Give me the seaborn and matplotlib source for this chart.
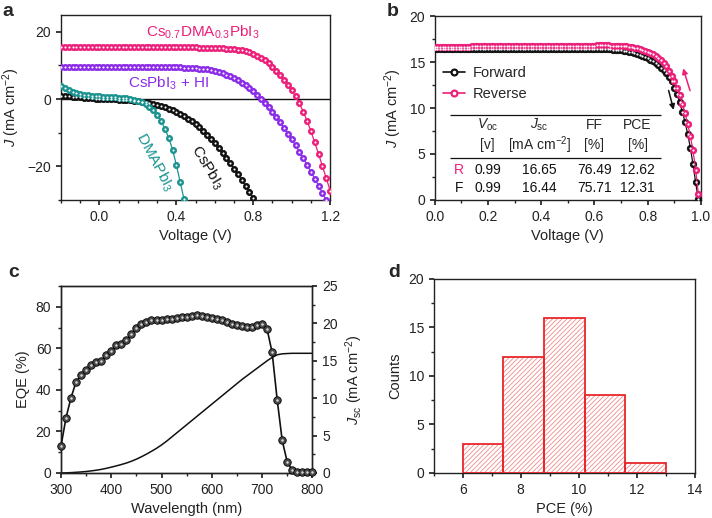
import matplotlib
matplotlib.use('Agg')
import matplotlib.pyplot as plt
import seaborn as sns
import pandas as pd
from matplotlib.lines import Line2D
from matplotlib.ticker import MultipleLocator

# ---------------- panel a data ----------------
voltage_a = [-0.20, -0.18, -0.16, -0.14, -0.12, -0.10, -0.08, -0.06, -0.04, -0.02,
             0.00, 0.02, 0.04, 0.06, 0.08, 0.10, 0.12, 0.14, 0.16, 0.18,
             0.20, 0.22, 0.24, 0.26, 0.28, 0.30, 0.32, 0.34, 0.36, 0.38,
             0.40, 0.42, 0.44, 0.46, 0.48, 0.50, 0.52, 0.54, 0.56, 0.58,
             0.60, 0.62, 0.64, 0.66, 0.68, 0.70, 0.72, 0.74, 0.76, 0.78,
             0.80, 0.82, 0.84, 0.86, 0.88, 0.90, 0.92, 0.94, 0.96, 0.98,
             1.00, 1.02, 1.04, 1.06, 1.08, 1.10, 1.12, 1.14, 1.16, 1.18, 1.20]
j_csdma = [15.55, 15.55, 15.54, 15.54, 15.54, 15.53, 15.53, 15.53, 15.52, 15.52,
           15.52, 15.51, 15.51, 15.51, 15.50, 15.50, 15.50, 15.49, 15.49, 15.49,
           15.48, 15.48, 15.47, 15.47, 15.46, 15.46, 15.45, 15.45, 15.44, 15.43,
           15.42, 15.41, 15.40, 15.39, 15.37, 15.35, 15.33, 15.30, 15.27, 15.24,
           15.20, 15.15, 15.09, 15.02, 14.93, 14.82, 14.68, 14.50, 14.27, 13.98,
           13.45, 12.90, 12.25, 11.50, 10.60, 9.60, 8.45, 7.20, 5.80, 4.30,
           2.60, 0.80, -1.30, -3.70, -6.50, -9.60, -12.90, -16.40, -20.00, -23.60, -27.20]
j_cshi = [9.62, 9.62, 9.62, 9.61, 9.61, 9.61, 9.61, 9.60, 9.60, 9.60,
          9.60, 9.60, 9.59, 9.59, 9.59, 9.59, 9.58, 9.58, 9.58, 9.57,
          9.57, 9.56, 9.56, 9.55, 9.54, 9.53, 9.52, 9.50, 9.48, 9.46,
          9.43, 9.40, 9.36, 9.31, 9.25, 9.18, 9.09, 8.98, 8.85, 8.70,
          8.45, 8.10, 7.70, 7.25, 6.75, 6.20, 5.60, 4.90, 4.10, 3.25,
          2.30, 1.25, 0.10, -1.10, -2.40, -3.80, -5.30, -6.90, -8.60, -10.30,
          -12.00, -13.80, -15.70, -17.60, -19.60, -21.60, -23.70, -25.80, -27.90, -30.10, -32.30]
j_cspbi3 = [1.00, 0.90, 0.80, 0.70, 0.60, 0.50, 0.40, 0.30, 0.22, 0.15,
            0.10, 0.05, 0.00, -0.05, -0.10, -0.15, -0.20, -0.27, -0.36, -0.48,
            -0.64, -0.80, -0.98, -1.18, -1.42, -1.70, -2.02, -2.40, -2.85, -3.35,
            -3.90, -4.50, -5.15, -5.85, -6.60, -7.45, -8.40, -9.45, -10.60, -11.85,
            -13.20, -14.60, -16.05, -17.55, -19.10, -20.70, -22.35, -24.05, -25.80, -27.60,
            -29.40, -31.20]
j_dmapbi3 = [4.00, 3.30, 2.70, 2.20, 1.80, 1.50, 1.30, 1.15, 1.00, 0.90,
             0.80, 0.72, 0.64, 0.56, 0.48, 0.40, 0.30, 0.18, 0.02, -0.20,
             -0.55, -0.95, -1.50, -2.30, -3.20, -4.60, -6.50, -8.80, -11.50, -15.00,
             -19.60, -24.70, -29.80]

# ---------------- panel b data ----------------
voltage_b = [0.00, 0.01, 0.02, 0.03, 0.04, 0.05, 0.06, 0.07, 0.08, 0.09,
             0.10, 0.11, 0.12, 0.13, 0.14, 0.15, 0.16, 0.17, 0.18, 0.19,
             0.20, 0.21, 0.22, 0.23, 0.24, 0.25, 0.26, 0.27, 0.28, 0.29,
             0.30, 0.31, 0.32, 0.33, 0.34, 0.35, 0.36, 0.37, 0.38, 0.39,
             0.40, 0.41, 0.42, 0.43, 0.44, 0.45, 0.46, 0.47, 0.48, 0.49,
             0.50, 0.51, 0.52, 0.53, 0.54, 0.55, 0.56, 0.57, 0.58, 0.59,
             0.60, 0.61, 0.62, 0.63, 0.64, 0.65, 0.66, 0.67, 0.68, 0.69,
             0.70, 0.71, 0.72, 0.73, 0.74, 0.75, 0.76, 0.77, 0.78, 0.79,
             0.80, 0.81, 0.82, 0.83, 0.84, 0.85, 0.86, 0.87, 0.88, 0.89,
             0.90, 0.91, 0.92, 0.93, 0.94, 0.95, 0.96, 0.97, 0.98, 0.99]
j_reverse = [16.65, 16.65, 16.66, 16.66, 16.66, 16.67, 16.67, 16.67, 16.67, 16.68,
             16.68, 16.68, 16.68, 16.68, 16.69, 16.69, 16.69, 16.69, 16.69, 16.70,
             16.70, 16.70, 16.70, 16.70, 16.71, 16.71, 16.71, 16.71, 16.71, 16.72,
             16.72, 16.72, 16.72, 16.72, 16.73, 16.73, 16.73, 16.73, 16.73, 16.74,
             16.74, 16.74, 16.74, 16.75, 16.75, 16.75, 16.75, 16.76, 16.76, 16.76,
             16.76, 16.77, 16.77, 16.77, 16.78, 16.78, 16.78, 16.79, 16.79, 16.79,
             16.79, 16.80, 16.80, 16.80, 16.80, 16.80, 16.79, 16.79, 16.78, 16.77,
             16.75, 16.73, 16.70, 16.66, 16.61, 16.55, 16.48, 16.40, 16.31, 16.22,
             16.12, 16.00, 15.86, 15.68, 15.47, 15.22, 14.90, 14.52, 14.06, 13.52,
             12.90, 12.20, 11.40, 10.48, 9.45, 8.28, 6.95, 5.40, 3.30, 0.70]
j_forward = [16.44, 16.44, 16.43, 16.43, 16.43, 16.42, 16.42, 16.42, 16.42, 16.41,
             16.41, 16.41, 16.41, 16.41, 16.40, 16.40, 16.40, 16.40, 16.40, 16.40,
             16.40, 16.40, 16.40, 16.40, 16.40, 16.40, 16.40, 16.40, 16.40, 16.40,
             16.40, 16.40, 16.40, 16.40, 16.40, 16.40, 16.40, 16.40, 16.40, 16.40,
             16.40, 16.40, 16.40, 16.40, 16.40, 16.40, 16.40, 16.40, 16.40, 16.40,
             16.40, 16.40, 16.40, 16.40, 16.40, 16.40, 16.40, 16.40, 16.40, 16.40,
             16.40, 16.40, 16.40, 16.39, 16.39, 16.38, 16.37, 16.36, 16.34, 16.32,
             16.29, 16.25, 16.20, 16.14, 16.07, 15.99, 15.90, 15.80, 15.69, 15.56,
             15.42, 15.26, 15.08, 14.88, 14.65, 14.39, 14.10, 13.76, 13.37, 12.92,
             12.20, 11.50, 10.60, 9.60, 8.50, 7.20, 5.70, 3.90, 1.90, 0.05]
table_cols = ["$V_{\\rm oc}$\n[v]", "$J_{\\rm sc}$\n[mA cm$^{-2}$]", "FF\n[%]", "PCE\n[%]"]
table_rows = ["R", "F"]
table_vals = [["0.99", "16.65", "76.49", "12.62"],
              ["0.99", "16.44", "75.71", "12.31"]]

# ---------------- panel c data ----------------
wavelength = [300, 310, 320, 330, 340, 350, 360, 370, 380, 390,
              400, 410, 420, 430, 440, 450, 460, 470, 480, 490,
              500, 510, 520, 530, 540, 550, 560, 570, 580, 590,
              600, 610, 620, 630, 640, 650, 660, 670, 680, 690,
              700, 710, 720, 730, 740, 750, 760, 770, 780, 790, 800]
eqe = [13.0, 26.7, 36.3, 43.9, 47.1, 49.5, 51.9, 53.2, 53.8, 56.7,
       58.8, 61.5, 62.3, 63.9, 66.7, 69.9, 71.5, 72.8, 73.6, 73.4,
       73.6, 73.9, 73.9, 74.4, 75.0, 75.2, 75.5, 75.8, 75.5, 75.2,
       74.7, 74.1, 73.4, 72.8, 71.8, 71.3, 70.8, 70.5, 70.5, 71.0,
       71.8, 69.1, 58.0, 35.3, 15.7, 5.3, 1.3, 0.7, 0.6, 0.5, 0.5]
jsc_int = [0.00, 0.02, 0.05, 0.09, 0.14, 0.20, 0.28, 0.37, 0.48, 0.62,
           0.78, 0.95, 1.13, 1.33, 1.57, 1.85, 2.17, 2.52, 2.90, 3.30,
           3.75, 4.25, 4.80, 5.35, 5.90, 6.45, 7.00, 7.55, 8.10, 8.65,
           9.20, 9.75, 10.30, 10.85, 11.40, 11.95, 12.50, 13.00, 13.50, 14.00,
           14.50, 15.00, 15.45, 15.80, 15.93, 15.97, 16.00, 16.00, 16.00, 16.00, 16.00]

# ---------------- panel d data ----------------
pce_edges = [6.0, 7.4, 8.8, 10.2, 11.6, 13.0]
pce_centers = [6.7, 8.1, 9.5, 10.9, 12.3]
pce_counts = [3, 12, 16, 8, 1]

# ---------------- style ----------------
sns.set_theme(style='ticks')
plt.rcParams['font.family'] = ['Liberation Sans', 'DejaVu Sans']
plt.rcParams.update({
    'mathtext.fontset': 'custom',
    'mathtext.rm': 'Liberation Sans',
    'mathtext.it': 'Liberation Sans:italic',
    'mathtext.bf': 'Liberation Sans:bold',
    'axes.edgecolor': '#222222',
    'axes.linewidth': 1.0,
    'axes.labelcolor': '#222222',
    'xtick.color': '#222222',
    'ytick.color': '#222222',
    'xtick.direction': 'out',
    'ytick.direction': 'out',
    'xtick.major.size': 3.5,
    'ytick.major.size': 3.5,
    'xtick.minor.size': 2,
    'ytick.minor.size': 2,
    'xtick.labelsize': 10,
    'ytick.labelsize': 10,
    'axes.labelsize': 10.5,
    'hatch.linewidth': 0.6,
    'axes.facecolor': 'white',
    'figure.facecolor': 'white',
})

PINK = '#EC1E79'
PURPLE = '#8B2BE8'
TEAL = '#1A9390'
BLACK = '#111111'
RED = '#E8262B'

fig = plt.figure(figsize=(7.12, 5.18), dpi=100)
ax_a = fig.add_axes([0.0857, 0.614, 0.378, 0.357])
ax_b = fig.add_axes([0.6105, 0.614, 0.374, 0.355])
ax_c = fig.add_axes([0.0857, 0.0869, 0.353, 0.361])
ax_d = fig.add_axes([0.609, 0.0869, 0.367, 0.3745])


def sphere_curve(ax, x, y, color, ms, hl_ms, hl_color='white', edge=None, lw=0.9):
    sns.lineplot(x=x, y=y, ax=ax, color=color, lw=lw, marker='o', markersize=ms,
                 markerfacecolor=color, markeredgecolor=edge or color,
                 markeredgewidth=0.6, sort=False, estimator=None, zorder=3)
    sns.lineplot(x=x, y=y, ax=ax, color=hl_color, lw=0, marker='o', markersize=hl_ms,
                 markerfacecolor=hl_color, markeredgewidth=0, sort=False,
                 estimator=None, zorder=4)


# ---------------- panel a ----------------
ax_a.axhline(0, color=BLACK, lw=1.0, zorder=2)
sphere_curve(ax_a, voltage_a[:len(j_cspbi3)], j_cspbi3, BLACK, 4.4, 1.5)
sphere_curve(ax_a, voltage_a[:len(j_dmapbi3)], j_dmapbi3, TEAL, 4.4, 1.5)
sphere_curve(ax_a, voltage_a, j_cshi, PURPLE, 4.4, 1.5)
sphere_curve(ax_a, voltage_a, j_csdma, PINK, 4.4, 1.5)
ax_a.set_xlim(-0.2, 1.2)
ax_a.set_ylim(-30, 25)
ax_a.set_xticks([0.0, 0.4, 0.8, 1.2])
ax_a.set_xticklabels(['0.0', '0.4', '0.8', '1.2'])
ax_a.xaxis.set_minor_locator(MultipleLocator(0.1))
ax_a.set_yticks([-20, 0, 20])
ax_a.yaxis.set_minor_locator(MultipleLocator(10))
ax_a.set_xlabel('Voltage (V)')
ax_a.set_ylabel('$J$ (mA cm$^{-2}$)')
ax_a.text(0.537, 19.8, 'Cs$_{0.7}$DMA$_{0.3}$PbI$_3$', color=PINK, fontsize=11,
          ha='center', va='center')
ax_a.text(0.146, 4.65, 'CsPbI$_3$ + HI', color=PURPLE, fontsize=11, ha='left', va='center')
ax_a.text(0.287, -18.8, 'DMAPbI$_3$', color=TEAL, fontsize=11, ha='center', va='center',
          rotation=-62, rotation_mode='anchor')
ax_a.text(0.56, -20.4, 'CsPbI$_3$', color=BLACK, fontsize=11, ha='center', va='center',
          rotation=-59, rotation_mode='anchor')

# ---------------- panel b ----------------
sphere_curve(ax_b, voltage_b, j_forward, BLACK, 4.6, 1.6)
sphere_curve(ax_b, voltage_b, j_reverse, PINK, 4.6, 1.6)
ax_b.set_xlim(0, 1.0)
ax_b.set_ylim(0, 20)
ax_b.set_xticks([0.0, 0.2, 0.4, 0.6, 0.8, 1.0])
ax_b.set_xticklabels(['0.0', '0.2', '0.4', '0.6', '0.8', '1.0'])
ax_b.xaxis.set_minor_locator(MultipleLocator(0.1))
ax_b.set_yticks([0, 5, 10, 15, 20])
ax_b.yaxis.set_minor_locator(MultipleLocator(2.5))
ax_b.set_xlabel('Voltage (V)')
ax_b.set_ylabel('$J$ (mA cm$^{-2}$)')
handles = [
    (Line2D([], [], color=BLACK, lw=1.2, marker='o', ms=4.8, mfc=BLACK, mec=BLACK),
     Line2D([], [], lw=0, marker='o', ms=1.6, mfc='white', mec='white')),
    (Line2D([], [], color=PINK, lw=1.2, marker='o', ms=4.8, mfc=PINK, mec=PINK),
     Line2D([], [], lw=0, marker='o', ms=1.6, mfc='white', mec='white')),
]
ax_b.legend(handles, ['Forward', 'Reverse'], loc='upper left', bbox_to_anchor=(0.0, 0.775),
            frameon=False, fontsize=10.5, handlelength=1.5, handletextpad=0.5,
            labelspacing=0.5, borderaxespad=0.2)
ax_b.hlines([9.24, 4.6], 0.058, 0.85, color=BLACK, lw=0.9)
col_x = [0.199, 0.393, 0.6, 0.762]
for cx, txt in zip(col_x, table_cols):
    top, bottom = txt.split('\n')
    ax_b.text(cx, 8.15, top, ha='center', va='center', fontsize=10)
    ax_b.text(cx, 5.95, bottom, ha='center', va='center', fontsize=10)
row_y = [3.26, 1.27]
row_colors = [PINK, BLACK]
for ry, rlab, rc, vals in zip(row_y, table_rows, row_colors, table_vals):
    ax_b.text(0.09, ry, rlab, ha='center', va='center', fontsize=10, color=rc)
    for cx, v in zip(col_x, vals):
        ax_b.text(cx, ry, v, ha='center', va='center', fontsize=10, color=BLACK)
ax_b.annotate('', xy=(0.9, 9.5), xytext=(0.876, 12.2),
              arrowprops=dict(arrowstyle='-|>', color=BLACK, lw=1.1, mutation_scale=8))
ax_b.annotate('', xy=(0.93, 14.6), xytext=(0.962, 11.6),
              arrowprops=dict(arrowstyle='-|>', color=PINK, lw=1.1, mutation_scale=8))

# ---------------- panel c ----------------
ax_c2 = ax_c.twinx()
sns.lineplot(x=wavelength, y=jsc_int, ax=ax_c2, color=BLACK, lw=1.1, sort=False,
             estimator=None, zorder=2)
sns.lineplot(x=wavelength, y=eqe, ax=ax_c, color=BLACK, lw=1.2, marker='o', markersize=5.4,
             markerfacecolor='#4a4a4a', markeredgecolor='#000000', markeredgewidth=0.6,
             sort=False, estimator=None, zorder=3, clip_on=False)
sns.lineplot(x=wavelength, y=eqe, ax=ax_c, color='#d8d8d8', lw=0, marker='o', markersize=1.8,
             markerfacecolor='#d8d8d8', markeredgewidth=0, sort=False, estimator=None,
             zorder=4, clip_on=False)
ax_c.set_zorder(ax_c2.get_zorder() + 1)
ax_c.patch.set_visible(False)
ax_c.set_xlim(300, 800)
ax_c.set_ylim(0, 90)
ax_c2.set_ylim(0, 25)
ax_c.set_xticks([300, 400, 500, 600, 700, 800])
ax_c.xaxis.set_minor_locator(MultipleLocator(50))
ax_c.set_yticks([0, 20, 40, 60, 80])
ax_c.yaxis.set_minor_locator(MultipleLocator(10))
ax_c2.set_yticks([0, 5, 10, 15, 20, 25])
ax_c2.yaxis.set_minor_locator(MultipleLocator(2.5))
ax_c.set_xlabel('Wavelength (nm)')
ax_c.set_ylabel('EQE (%)')
ax_c2.set_ylabel('$J_{\\rm sc}$ (mA cm$^{-2}$)')
ax_c2.grid(False)

# ---------------- panel d ----------------
sns.histplot(x=pce_centers, weights=pce_counts, bins=pce_edges, ax=ax_d, color='white',
             edgecolor='#EE8C8C', linewidth=0, hatch='///////', alpha=1.0, zorder=2)
sns.histplot(x=pce_centers, weights=pce_counts, bins=pce_edges, ax=ax_d, fill=False,
             color=RED, linewidth=1.3, zorder=3)
ax_d.set_xlim(5, 14)
ax_d.set_ylim(0, 20)
ax_d.set_xticks([6, 8, 10, 12, 14])
ax_d.xaxis.set_minor_locator(MultipleLocator(1))
ax_d.set_yticks([0, 5, 10, 15, 20])
ax_d.yaxis.set_minor_locator(MultipleLocator(2.5))
ax_d.set_xlabel('PCE (%)')
ax_d.set_ylabel('Counts')

for ax in (ax_a, ax_b, ax_c, ax_d):
    ax.tick_params(which='both', top=False, right=False)
    ax.grid(False)
ax_c2.tick_params(which='both', right=True)

# panel letters
for lx, ly, lab in [(0.004, 0.978, 'a'), (0.543, 0.978, 'b'), (0.012, 0.473, 'c'), (0.545, 0.473, 'd')]:
    fig.text(lx, ly, lab, fontsize=14, fontweight='bold', ha='left', va='center')

fig.savefig('out.png', dpi=100)
